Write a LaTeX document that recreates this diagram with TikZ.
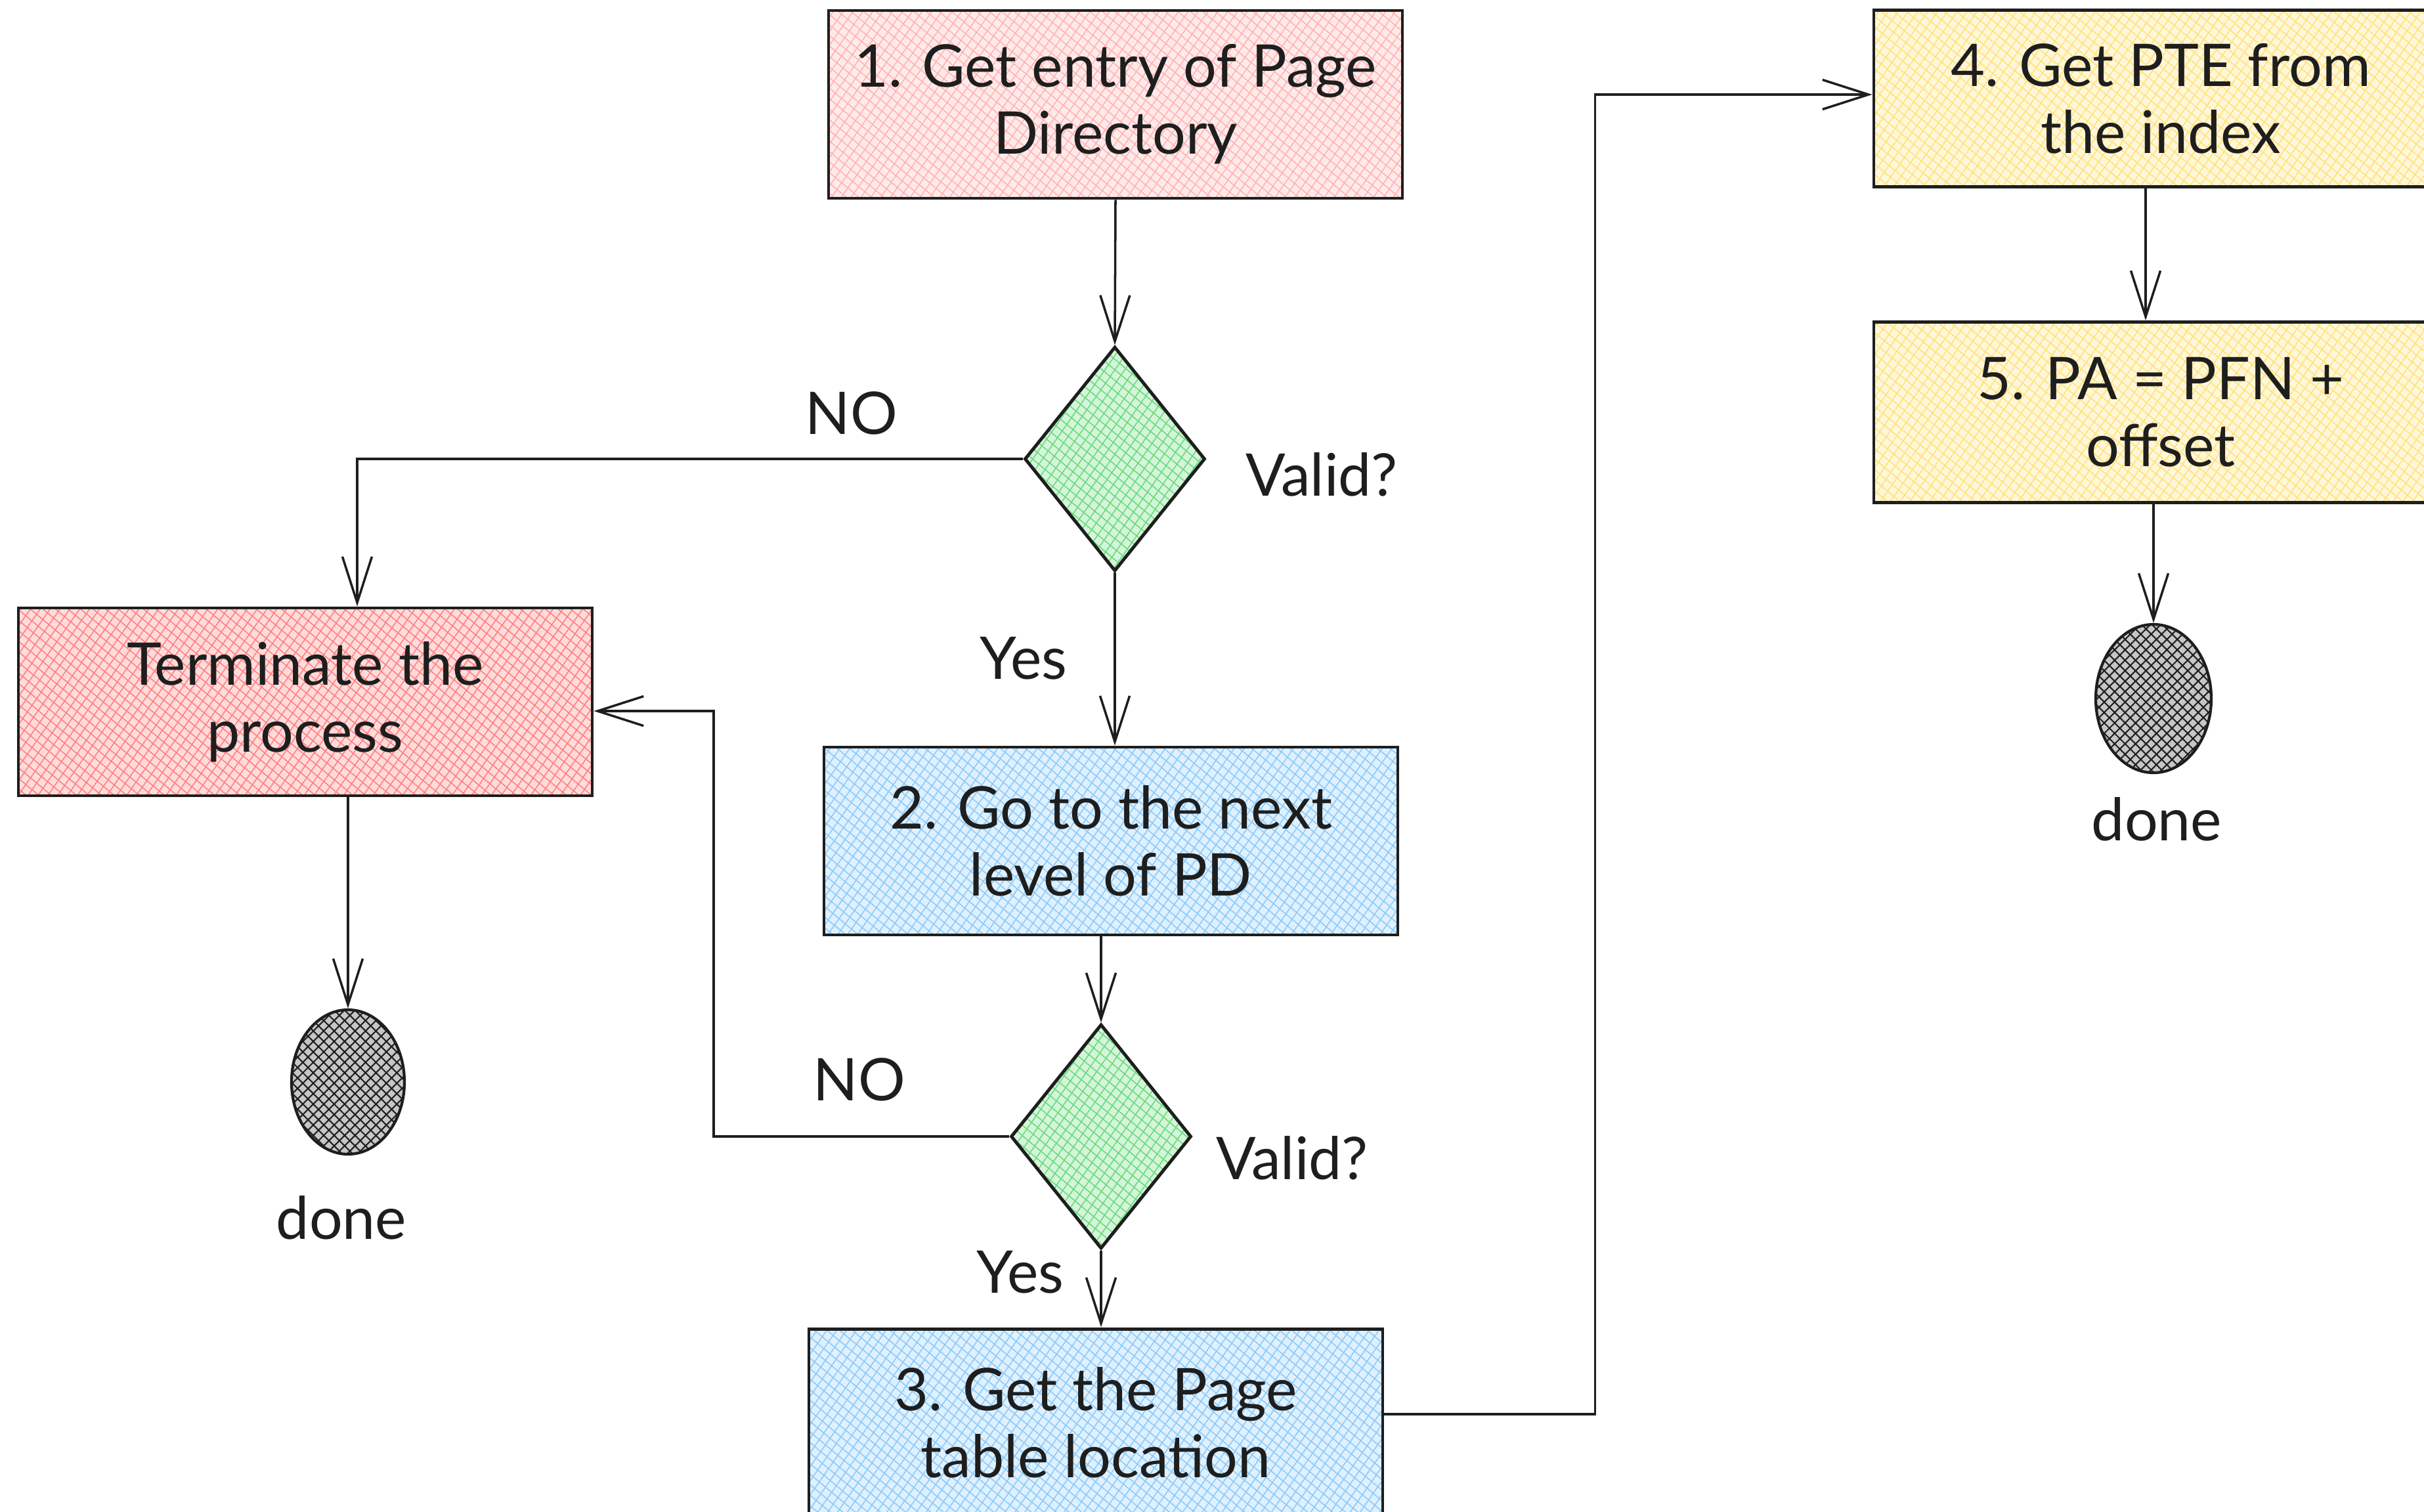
\documentclass[tikz,border=0pt]{standalone}
\usepackage{fontspec}
\setmainfont{Lato}
\usepackage{xcolor}
\usepackage{tikz}
\usetikzlibrary{arrows.meta,shapes.geometric,patterns.meta}

\definecolor{ink}{HTML}{1E1E1E}
\definecolor{pinkhatch}{HTML}{FFB3B3}
\definecolor{redhatch}{HTML}{FF8080}
\definecolor{greenhatch}{HTML}{69DB7C}
\definecolor{bluehatch}{HTML}{8CCBFA}
\definecolor{yellowhatch}{HTML}{FFE27A}

\tikzset{
  hatch/.style={
    preaction={fill=#1!28},
    preaction={pattern={Lines[angle=55,distance=3.5pt,line width=.45pt]}, pattern color=#1},
    preaction={pattern={Lines[angle=-40,distance=3.5pt,line width=.45pt]}, pattern color=#1}
  },
  procbox/.style={draw=ink, line width=1.4pt, hatch=#1, minimum width=8.74cm,
    minimum height=2.86cm, align=center, text=ink},
  decision/.style={draw=ink, line width=1.4pt, hatch=greenhatch, shape=diamond,
    minimum width=2.75cm, minimum height=3.42cm, inner sep=0pt},
  stopdot/.style={draw=ink, line width=1.2pt, shape=ellipse, minimum width=1.72cm,
    minimum height=2.2cm, inner sep=0pt, preaction={fill=gray!45},
    preaction={pattern={Lines[angle=45,distance=3.2pt,line width=.6pt]}, pattern color=ink},
    preaction={pattern={Lines[angle=-45,distance=3.2pt,line width=.6pt]}, pattern color=ink}},
  note/.style={text=ink},
  flow/.style={draw=ink, line width=1pt, -{Straight Barb[length=7mm,width=4.5mm,line width=1pt]}}
}

\begin{document}
\begin{tikzpicture}[font=\fontsize{25.5}{29}\selectfont]
 \useasboundingbox (0,0) rectangle (36.92,-23.02);
 \clip (0,0) rectangle (36.92,-23.02);

 % boxes
 \node (box1) at (16.99,-1.59) [procbox=pinkhatch] {1. Get entry of Page\\Directory};
 \node (dia1) at (16.98,-6.99) [decision] {};
 \node (term) at (4.65,-10.69) [procbox=redhatch] {Terminate the\\process};
 \node (box2) at (16.92,-12.81) [procbox=bluehatch] {2. Go to the next\\level of PD};
 \node (dia2) at (16.77,-17.31) [decision] {};
 \node (box3) at (16.69,-21.67) [procbox=bluehatch] {3. Get the Page\\table location};
 \node (box4) at (32.91,-1.50) [procbox=yellowhatch, minimum height=2.69cm] {4. Get PTE from\\the index};
 \node (box5) at (32.91,-6.28) [procbox=yellowhatch, minimum height=2.75cm] {5. PA = PFN +\\offset};

 % end points
 \node (done1) at (5.30,-16.48) [stopdot] {};
 \node (done2) at (32.80,-10.64) [stopdot, minimum width=1.76cm, minimum height=2.26cm] {};
 \node (donetxt1) at (5.20,-18.55) [note] {done};
 \node (donetxt2) at (32.85,-12.48) [note] {done};

 % labels
 \node (no1) at (12.97,-6.29) [note] {NO};
 \node (valid1) at (20.13,-7.23) [note] {Valid?};
 \node (yes1) at (15.59,-10.03) [note] {Yes};
 \node (no2) at (13.09,-16.44) [note] {NO};
 \node (valid2) at (19.68,-17.64) [note] {Valid?};
 \node (yes2) at (15.54,-19.38) [note] {Yes};

 % connectors
 \draw [flow] (box1.south) -- (dia1.north);
 \draw [flow] (dia1.west) -| ([xshift=7.9mm]term.north);
 \draw [flow] (dia1.south) -- (dia1.south |- box2.north);
 \draw [flow] (dia2.north |- box2.south) -- (dia2.north);
 \draw [flow] (dia2.west) -- ++(-4.5,0) |- ([yshift=-1.4mm]term.east);
 \draw [flow] (dia2.south) -- (dia2.south |- box3.north);
 \draw [flow] (done1.north |- term.south) -- (done1.north);
 \draw [flow] ([yshift=1.3mm]box3.east) -- ++(3.21,0) |- ([yshift=0.6mm]box4.west);
 \draw [flow] ([xshift=-1.2mm]done2.north |- box4.south) -- ([xshift=-1.2mm]done2.north |- box5.north);
 \draw [flow] (done2.north |- box5.south) -- (done2.north);
\end{tikzpicture}
\end{document}
